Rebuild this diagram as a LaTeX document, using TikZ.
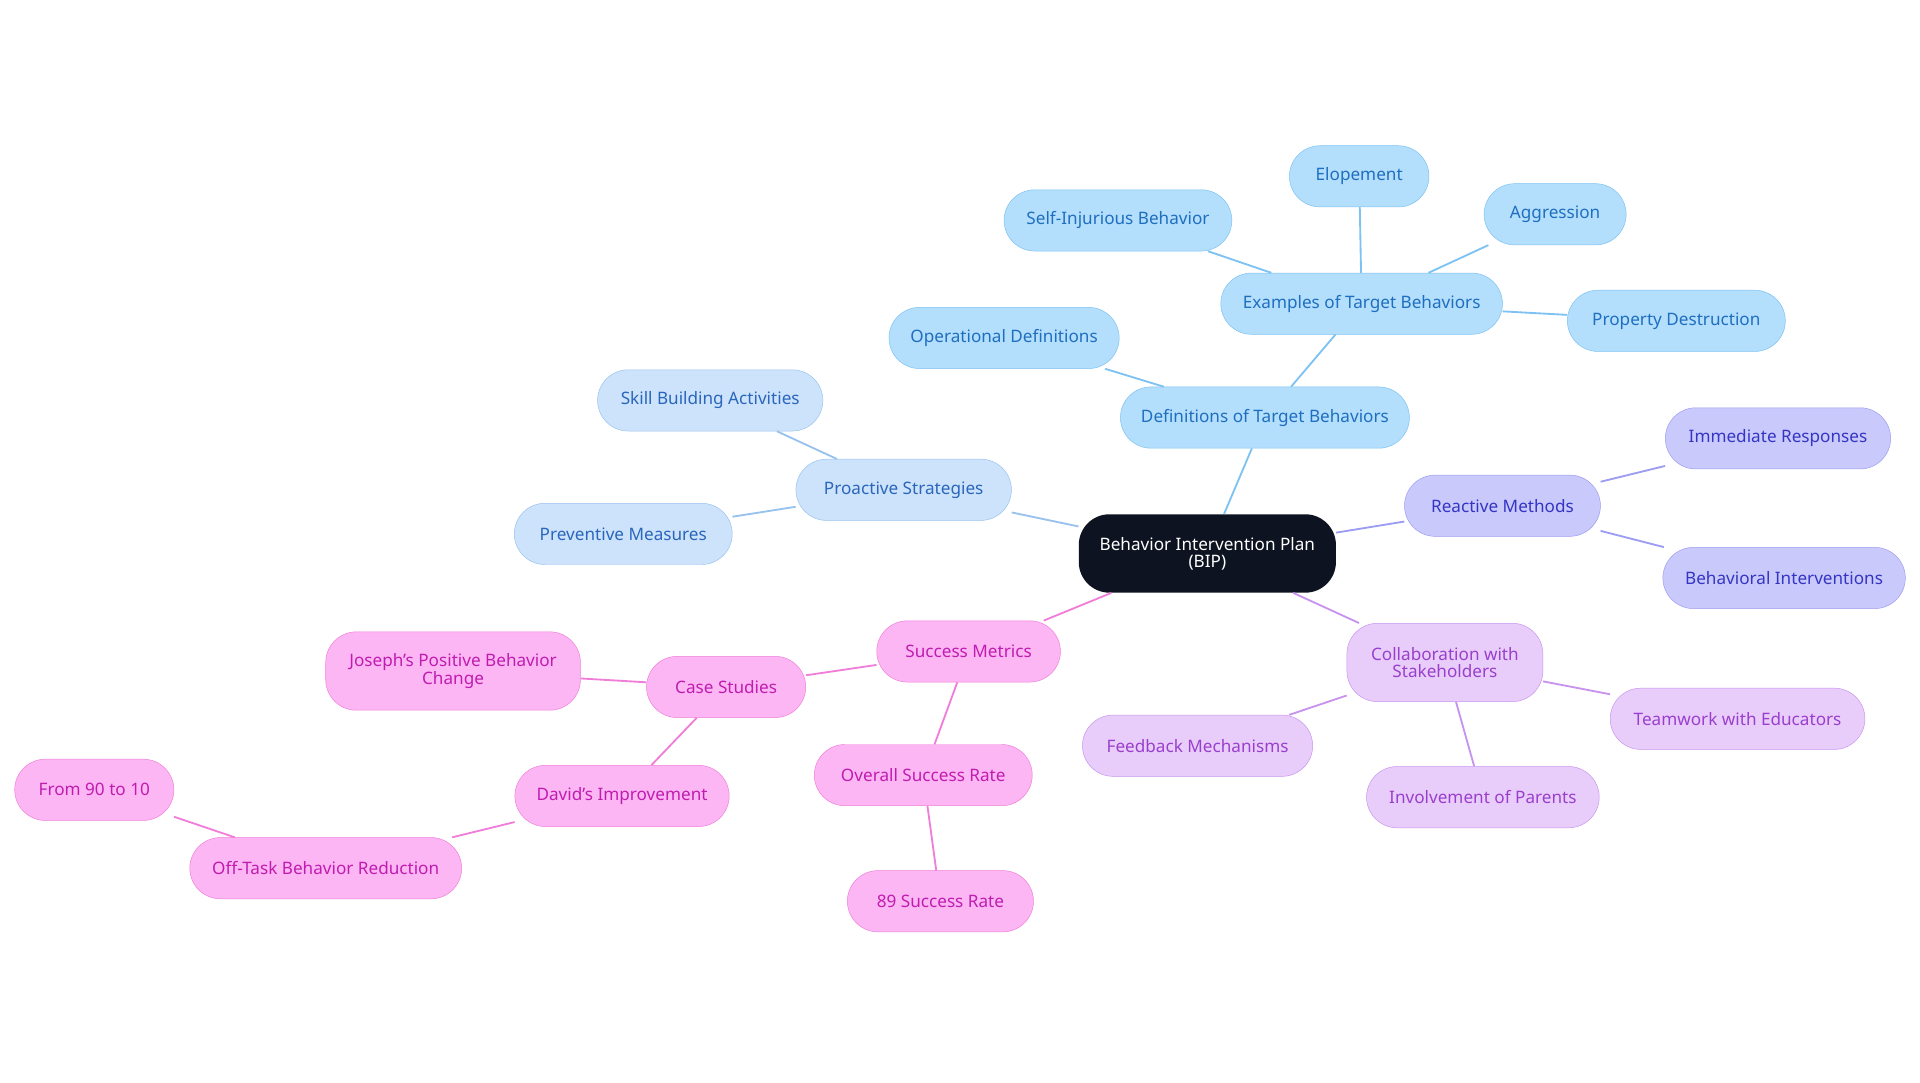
\documentclass[tikz,border=0pt]{standalone}
\usepackage{fontspec}
\setmainfont{Noto Sans}
\definecolor{bluefill}{HTML}{B3DEFC}\definecolor{bluetext}{HTML}{1F6FC0}\definecolor{blueline}{HTML}{7CC2F2}
\definecolor{profill}{HTML}{CDE3FB}\definecolor{protext}{HTML}{2A66BC}\definecolor{proline}{HTML}{98C2EE}
\definecolor{reafill}{HTML}{C9C9FC}\definecolor{reatext}{HTML}{3535C4}\definecolor{realine}{HTML}{9C9CF2}
\definecolor{colfill}{HTML}{E8CDFB}\definecolor{coltext}{HTML}{9A3FCC}\definecolor{colline}{HTML}{C893EE}
\definecolor{pinkfill}{HTML}{FDB6F4}\definecolor{pinktext}{HTML}{C01CB0}\definecolor{pinkline}{HTML}{F07ED8}
\definecolor{rootfill}{HTML}{0D1320}
\begin{document}
\begin{tikzpicture}[x=1pt, y=-1pt,
  every node/.style={rounded corners=25pt, minimum height=50pt, align=center, font=\fontsize{14}{14}\selectfont, inner sep=2pt},
  bluebox/.style={draw=blueline, fill=bluefill, text=bluetext},
  probox/.style={draw=proline, fill=profill, text=protext},
  reabox/.style={draw=realine, fill=reafill, text=reatext},
  colbox/.style={draw=colline, fill=colfill, text=coltext},
  pinkbox/.style={draw=pinkline, fill=pinkfill, text=pinktext},
  link/.style={line width=1.5pt}]
    \useasboundingbox (0,0) rectangle (1568,884);

    % root
    \node[fill=rootfill, text=white, minimum width=210pt, minimum height=64pt] (bip) at (986,452) {Behavior Intervention Plan\\(BIP)};

    % definitions branch
    \node[bluebox, minimum width=236pt] (defs) at (1033,341) {Definitions of Target Behaviors};
    \node[bluebox, minimum width=230pt] (examples) at (1112,248) {Examples of Target Behaviors};
    \node[bluebox, minimum width=114pt] (elope) at (1110,144) {Elopement};
    \node[bluebox, minimum width=116pt] (aggr) at (1270,175) {Aggression};
    \node[bluebox, minimum width=186pt] (selfinj) at (913,180) {Self-Injurious Behavior};
    \node[bluebox, minimum width=178pt] (propdest) at (1369,262) {Property Destruction};
    \node[bluebox, minimum width=188pt] (opdefs) at (820,276) {Operational Definitions};

    % proactive branch
    \node[probox, minimum width=176pt] (proact) at (738,400) {Proactive Strategies};
    \node[probox, minimum width=184pt] (skills) at (580,327) {Skill Building Activities};
    \node[probox, minimum width=178pt] (prevent) at (509,436) {Preventive Measures};

    % reactive branch
    \node[reabox, minimum width=160pt] (react) at (1227,413) {Reactive Methods};
    \node[reabox, minimum width=184pt] (immed) at (1452,358) {Immediate Responses};
    \node[reabox, minimum width=198pt] (behint) at (1457,472) {Behavioral Interventions};

    % collaboration branch
    \node[colbox, minimum width=160pt, minimum height=64pt] (collab) at (1180,541) {Collaboration with\\Stakeholders};
    \node[colbox, minimum width=208pt] (teamwork) at (1419,587) {Teamwork with Educators};
    \node[colbox, minimum width=188pt] (feedback) at (978,609) {Feedback Mechanisms};
    \node[colbox, minimum width=190pt] (parents) at (1211,651) {Involvement of Parents};

    % success branch
    \node[pinkbox, minimum width=150pt] (success) at (791,532) {Success Metrics};
    \node[pinkbox, minimum width=130pt] (cases) at (593,561) {Case Studies};
    \node[pinkbox, minimum width=208pt, minimum height=64pt] (joseph) at (370,548) {Joseph's Positive Behavior\\Change};
    \node[pinkbox, minimum width=175pt] (david) at (508,650) {David's Improvement};
    \node[pinkbox, minimum width=222pt] (offtask) at (266,709) {Off-Task Behavior Reduction};
    \node[pinkbox, minimum width=130pt] (range) at (77,645) {From 90 to 10};
    \node[pinkbox, minimum width=178pt] (overall) at (754,633) {Overall Success Rate};
    \node[pinkbox, minimum width=152pt] (rate) at (768,736) {89 Success Rate};

    \begin{scope}[on background layer/.style={}]
    \end{scope}
    \draw[link, blueline] (bip) -- (defs);
    \draw[link, blueline] (defs) -- (examples);
    \draw[link, blueline] (defs) -- (opdefs);
    \foreach \t in {elope, aggr, selfinj, propdest} \draw[link, blueline] (examples) -- (\t);
    \draw[link, proline] (bip) -- (proact);
    \draw[link, proline] (proact) -- (skills);
    \draw[link, proline] (proact) -- (prevent);
    \draw[link, realine] (bip) -- (react);
    \draw[link, realine] (react) -- (immed);
    \draw[link, realine] (react) -- (behint);
    \draw[link, colline] (bip) -- (collab);
    \foreach \t in {teamwork, feedback, parents} \draw[link, colline] (collab) -- (\t);
    \draw[link, pinkline] (bip) -- (success);
    \draw[link, pinkline] (success) -- (cases);
    \draw[link, pinkline] (success) -- (overall);
    \draw[link, pinkline] (overall) -- (rate);
    \draw[link, pinkline] (cases) -- (joseph);
    \draw[link, pinkline] (cases) -- (david);
    \draw[link, pinkline] (david) -- (offtask);
    \draw[link, pinkline] (offtask) -- (range);
\end{tikzpicture}
\end{document}
